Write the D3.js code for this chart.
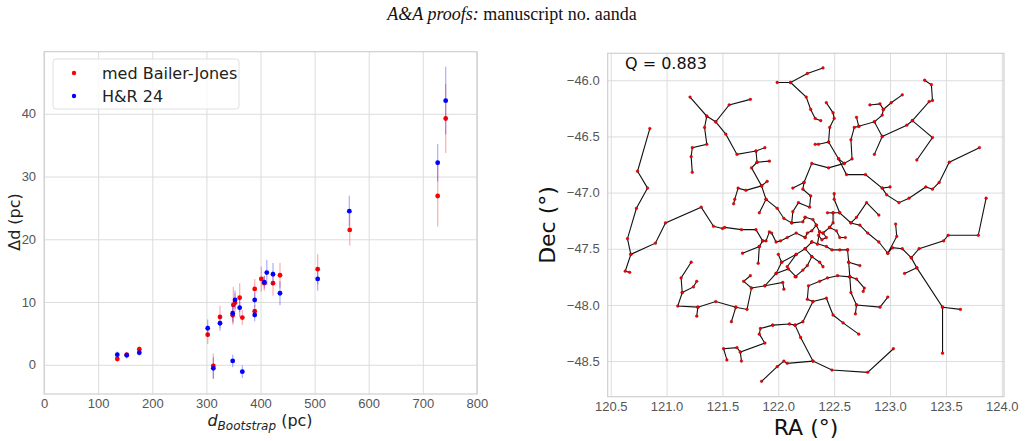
<!DOCTYPE html>
<html>
<head>
<meta charset="utf-8">
<script src="https://cdn.jsdelivr.net/npm/d3@7"></script>
<style>
  body { margin: 0; background: #fff; }
  svg { display: block; font-family: "DejaVu Sans", sans-serif; }
  .grid line { stroke: #dcdcdc; stroke-width: 1; }
  .grid path { display: none; }
  .ticks text { fill: #555; font-size: 13px; }
  .ticks line, .ticks path { display: none; }
</style>
</head>
<body>
<svg width="1025" height="441"></svg>
<script>
// left panel: distance offsets vs bootstrap distance
var bjDist = [135.3, 152.7, 176, 302.4, 312.8, 325.1, 348.6, 349.8, 352.9, 361.5, 366.4,
  389.3, 389.3, 401.5, 407, 423.1, 436, 505.7, 564.9, 727.5, 742.3];
var bjDelta = [0.93, 1.6, 2.47, 4.8, -0.19, 7.62, 7.89, 9.54, 9.9, 10.7, 7.52,
  12.09, 8.53, 13.68, 13.0, 13.0, 14.27, 15.23, 21.5, 26.9, 39.25];
var bjErr = [0.5, 0.4, 0.5, 1.5, 2.0, 1.8, 1.5, 2.9, 1.5, 2.3, 1.2,
  1.6, 1.0, 2.0, 1.2, 2.0, 2.0, 2.4, 2.5, 4.85, 5.5];

var hrDist = [135.3, 152.7, 176, 302.4, 312.8, 325.1, 348.6, 348.6, 352.9, 361.5, 366.4,
  389.3, 389.3, 407, 411.6, 423.1, 436, 505.7, 564.2, 727.5, 742.3];
var hrDelta = [1.61, 1.51, 1.93, 5.82, -0.56, 6.62, 0.61, 8.21, 10.33, 9.1, -1.1,
  10.33, 7.94, 13.16, 14.7, 14.43, 11.4, 13.68, 24.48, 32.2, 42.1];
var hrErr = [0.5, 0.5, 0.5, 1.4, 1.7, 1.2, 1.0, 1.3, 1.5, 1.5, 1.0,
  1.2, 1.0, 1.0, 2.0, 1.8, 1.9, 1.9, 2.44, 3.0, 5.4];

var xTicksLeft = [0, 100, 200, 300, 400, 500, 600, 700, 800];
var yTicksLeft = [0, 10, 20, 30, 40];

// right panel: minimum spanning tree, each branch is a list of [RA, Dec]
var branches = [
  [[120.85,-46.43],[120.74,-46.81],[120.83,-46.96],[120.73,-47.14],[120.65,-47.41],[120.68,-47.55],[120.63,-47.70],[120.67,-47.71]],
  [[120.68,-47.55],[120.90,-47.45],[120.99,-47.27],[121.31,-47.13],[121.42,-47.30],[121.50,-47.32],[121.52,-47.31],[121.67,-47.33],[121.80,-47.33],[121.86,-47.43],[121.89,-47.43],[121.92,-47.35],[121.94,-47.36],[121.98,-47.44],[122.02,-47.43],[122.08,-47.40],[122.16,-47.36],[122.24,-47.40]],
  [[121.86,-47.43],[121.83,-47.48],[121.68,-47.54]],
  [[121.83,-47.48],[121.82,-47.63]],
  [[121.21,-46.15],[121.36,-46.32],[121.44,-46.37],[121.56,-46.22],[121.75,-46.17]],
  [[121.36,-46.32],[121.34,-46.42],[121.36,-46.57],[121.23,-46.60],[121.22,-46.68],[121.23,-46.82]],
  [[121.44,-46.37],[121.53,-46.48],[121.63,-46.66],[121.80,-46.63],[121.88,-46.60]],
  [[121.80,-46.63],[121.81,-46.73],[121.92,-46.72]],
  [[121.81,-46.73],[121.76,-46.78],[121.85,-46.94],[121.90,-46.90]],
  [[121.85,-46.94],[121.71,-46.98],[121.64,-46.96],[121.61,-47.06],[121.60,-47.10]],
  [[121.85,-46.94],[121.89,-47.06],[121.83,-47.18]],
  [[121.89,-47.06],[121.99,-47.14],[122.05,-47.23],[122.12,-47.27],[122.22,-47.26],[122.24,-47.22]],
  [[121.22,-47.62],[121.13,-47.76],[121.14,-47.89],[121.10,-48.01],[121.28,-48.02],[121.44,-47.97],[121.62,-48.02],[121.72,-48.04],[121.76,-47.85],[121.69,-47.79],[121.75,-47.74]],
  [[121.14,-47.89],[121.24,-47.84],[121.27,-47.79]],
  [[121.28,-48.02],[121.27,-48.10]],
  [[121.62,-48.02],[121.58,-48.15]],
  [[121.76,-47.85],[121.88,-47.83],[121.98,-47.72],[122.03,-47.62],[122.00,-47.55]],
  [[122.03,-47.62],[122.16,-47.55],[122.24,-47.50],[122.30,-47.44]],
  [[121.98,-47.72],[122.09,-47.68],[122.16,-47.75]],
  [[121.88,-47.83],[122.04,-47.80],[122.05,-47.86]],
  [[121.95,-48.18],[121.84,-48.21],[121.83,-48.26],[121.88,-48.34],[121.66,-48.42],[121.63,-48.38],[121.51,-48.39],[121.54,-48.49]],
  [[121.66,-48.42],[121.67,-48.50]],
  [[123.03,-48.39],[122.80,-48.60],[122.48,-48.58],[122.31,-48.50],[122.08,-48.52],[122.05,-48.50],[121.99,-48.55],[121.85,-48.68]],
  [[122.31,-48.50],[122.20,-48.29],[122.15,-48.18],[122.22,-48.15],[122.31,-47.97],[122.26,-47.95],[122.27,-47.83],[122.37,-47.79],[122.44,-47.76],[122.53,-47.74],[122.64,-47.75],[122.70,-47.77],[122.77,-47.85],[122.76,-47.88]],
  [[122.31,-47.97],[122.43,-47.94],[122.49,-48.09],[122.58,-48.16],[122.72,-48.26]],
  [[122.15,-48.18],[122.10,-48.17],[121.95,-48.18]],
  [[123.86,-47.05],[123.79,-47.38],[123.52,-47.38],[123.48,-47.43],[123.26,-47.50],[123.19,-47.58],[123.24,-47.67],[123.47,-48.02],[123.47,-48.43]],
  [[123.47,-48.02],[123.63,-48.04]],
  [[123.24,-47.67],[123.13,-47.72]],
  [[123.19,-47.58],[123.11,-47.50],[123.02,-47.49],[122.98,-47.54],[123.06,-47.39],[123.05,-47.28]],
  [[122.98,-47.54],[122.90,-47.44],[122.80,-47.36],[122.73,-47.29],[122.65,-47.27],[122.55,-47.18],[122.50,-47.06],[122.50,-47.01]],
  [[122.62,-47.51],[122.63,-47.62],[122.64,-47.75]],
  [[122.64,-47.75],[122.65,-47.89],[122.70,-48.00],[122.91,-48.02],[122.98,-47.93]],
  [[122.70,-48.00],[122.69,-48.08]],
  [[122.63,-47.62],[122.73,-47.65]],
  [[122.40,-45.89],[122.26,-45.94],[122.11,-46.02],[121.99,-46.02]],
  [[122.11,-46.02],[122.25,-46.15],[122.29,-46.26],[122.33,-46.34],[122.38,-46.36]],
  [[122.43,-46.20],[122.49,-46.29],[122.50,-46.34],[122.46,-46.42],[122.45,-46.55],[122.36,-46.57],[122.33,-46.57]],
  [[122.45,-46.55],[122.54,-46.70],[122.61,-46.84],[122.78,-46.84],[122.93,-46.96],[123.00,-46.95]],
  [[122.93,-46.96],[122.97,-47.02],[123.08,-47.09],[123.17,-47.05],[123.32,-46.95],[123.38,-46.97],[123.44,-46.91],[123.53,-46.73],[123.80,-46.60]],
  [[122.54,-46.70],[122.59,-46.74],[122.66,-46.70],[122.65,-46.53],[122.68,-46.42],[122.72,-46.41],[122.70,-46.33]],
  [[122.72,-46.41],[122.86,-46.37],[122.93,-46.50],[122.86,-46.66]],
  [[122.86,-46.37],[122.93,-46.31],[122.94,-46.26],[122.91,-46.21],[122.82,-46.22]],
  [[122.94,-46.26],[123.01,-46.20],[123.11,-46.13]],
  [[122.93,-46.50],[123.15,-46.40],[123.20,-46.36],[123.38,-46.51],[123.24,-46.71]],
  [[123.20,-46.36],[123.35,-46.19],[123.38,-46.18],[123.37,-46.04],[123.31,-46.00]],
  [[122.59,-46.74],[122.45,-46.78],[122.30,-46.74],[122.23,-46.91],[122.22,-46.97],[122.29,-47.03],[122.28,-47.13],[122.18,-47.09],[122.13,-47.17],[122.12,-47.27]],
  [[122.23,-46.91],[122.13,-46.96]],
  [[122.65,-47.27],[122.70,-47.22],[122.79,-47.09],[122.90,-47.20]],
  [[122.55,-47.18],[122.49,-47.18],[122.49,-47.27],[122.46,-47.31],[122.40,-47.36],[122.37,-47.35],[122.34,-47.29],[122.31,-47.24],[122.24,-47.22]],
  [[122.49,-47.18],[122.44,-47.18]],
  [[122.30,-47.44],[122.43,-47.48],[122.48,-47.51],[122.55,-47.51],[122.62,-47.51]],
  [[122.24,-47.50],[122.30,-47.57],[122.37,-47.62],[122.40,-47.66]],
  [[122.30,-47.57],[122.26,-47.65],[122.22,-47.69],[122.15,-47.75]],
  [[122.16,-47.55],[122.08,-47.66]],
  [[122.40,-47.36],[122.43,-47.40],[122.39,-47.42],[122.36,-47.38]],
  [[122.34,-47.29],[122.30,-47.34],[122.26,-47.36],[122.24,-47.40]],
  [[122.46,-47.31],[122.52,-47.34],[122.55,-47.40],[122.60,-47.40]],
  [[122.37,-47.35],[122.35,-47.46]]
];
var raTicks = [120.5, 121.0, 121.5, 122.0, 122.5, 123.0, 123.5, 124.0];
var decTicks = [-46.0, -46.5, -47.0, -47.5, -48.0, -48.5];
var qValue = 0.883;

var svg = d3.select('svg');

// header
var head = svg.append('text')
  .attr('x', 512).attr('y', 20)
  .attr('text-anchor', 'middle')
  .style('font-family', '"Liberation Serif", "DejaVu Serif", serif')
  .style('font-size', '18px')
  .style('fill', '#111');
head.append('tspan').style('font-style', 'italic').text('A&A proofs:');
head.append('tspan').text(' manuscript no. aanda');

// ---- left panel ----
var xL = d3.scaleLinear().domain([0, 800]).range([44.1, 476.9]);
var yL = d3.scaleLinear().domain([-4.66, 49.9]).range([394, 51.7]);

var left = svg.append('g');
left.append('g').attr('class', 'grid')
  .attr('transform', 'translate(0,394)')
  .call(d3.axisBottom(xL).tickValues(xTicksLeft).tickSize(-342.3).tickFormat(''));
left.append('g').attr('class', 'grid')
  .attr('transform', 'translate(44.1,0)')
  .call(d3.axisLeft(yL).tickValues(yTicksLeft).tickSize(-432.8).tickFormat(''));
left.append('rect')
  .attr('x', 44.1).attr('y', 51.7).attr('width', 432.8).attr('height', 342.3)
  .style('fill', 'none').style('stroke', '#cfcfcf').style('stroke-width', 1.2);
left.append('g').attr('class', 'ticks')
  .attr('transform', 'translate(0,394)')
  .call(d3.axisBottom(xL).tickValues(xTicksLeft).tickSize(0).tickPadding(5));
left.append('g').attr('class', 'ticks')
  .attr('transform', 'translate(44.1,0)')
  .call(d3.axisLeft(yL).tickValues(yTicksLeft).tickSize(0).tickPadding(8));

function drawSeries(dist, delta, err, color) {
  var idx = d3.range(dist.length);
  left.append('g').selectAll('line').data(idx).join('line')
    .attr('x1', function (i) { return xL(dist[i]); })
    .attr('x2', function (i) { return xL(dist[i]); })
    .attr('y1', function (i) { return yL(delta[i] - err[i]); })
    .attr('y2', function (i) { return yL(delta[i] + err[i]); })
    .style('stroke', color).style('stroke-opacity', 0.3).style('stroke-width', 1.3);
  left.append('g').selectAll('circle').data(idx).join('circle')
    .attr('cx', function (i) { return xL(dist[i]); })
    .attr('cy', function (i) { return yL(delta[i]); })
    .attr('r', 2.4)
    .style('fill', color);
}
drawSeries(bjDist, bjDelta, bjErr, '#ff0000');
drawSeries(hrDist, hrDelta, hrErr, '#0000ff');

// legend
var leg = left.append('g');
leg.append('rect')
  .attr('x', 53).attr('y', 59).attr('width', 186).attr('height', 50).attr('rx', 3)
  .style('fill', '#fff').style('fill-opacity', 0.8).style('stroke', '#e0e0e0');
[['med Bailer-Jones', '#ff0000'], ['H&R 24', '#0000ff']].forEach(function (d, i) {
  leg.append('circle').attr('cx', 74).attr('cy', 73 + i * 23).attr('r', 2.2).style('fill', d[1]);
  leg.append('text').attr('x', 102).attr('y', 79 + i * 23)
    .style('font-size', '16px').style('fill', '#222').text(d[0]);
});

// axis labels
left.append('text')
  .attr('transform', 'translate(20,222) rotate(-90)')
  .attr('text-anchor', 'middle')
  .style('font-size', '16px').style('fill', '#222')
  .text('Δd (pc)');
var xlab = left.append('text')
  .attr('x', 260).attr('y', 426)
  .attr('text-anchor', 'middle')
  .style('font-size', '16px').style('fill', '#222');
xlab.append('tspan').style('font-style', 'italic').text('d');
xlab.append('tspan').attr('dy', 4).style('font-style', 'italic').style('font-size', '12px').text('Bootstrap');
xlab.append('tspan').attr('dy', -4).text(' (pc)');

// ---- right panel ----
var xR = d3.scaleLinear().domain([120.473, 124.02]).range([607.7, 1004]);
var yR = d3.scaleLinear().domain([-45.76, -48.817]).range([53.3, 396.7]);

var right = svg.append('g');
right.append('g').attr('class', 'grid')
  .attr('transform', 'translate(0,396.7)')
  .call(d3.axisBottom(xR).tickValues(raTicks).tickSize(-343.4).tickFormat(''));
right.append('g').attr('class', 'grid')
  .attr('transform', 'translate(607.7,0)')
  .call(d3.axisLeft(yR).tickValues(decTicks).tickSize(-396.3).tickFormat(''));
right.append('rect')
  .attr('x', 607.7).attr('y', 53.3).attr('width', 396.3).attr('height', 343.4)
  .style('fill', 'none').style('stroke', '#cfcfcf').style('stroke-width', 1.2);
right.append('g').attr('class', 'ticks')
  .attr('transform', 'translate(0,396.7)')
  .call(d3.axisBottom(xR).tickValues(raTicks).tickSize(0).tickPadding(5).tickFormat(d3.format('.1f')));
right.append('g').attr('class', 'ticks')
  .attr('transform', 'translate(607.7,0)')
  .call(d3.axisLeft(yR).tickValues(decTicks).tickSize(0).tickPadding(8).tickFormat(d3.format('.1f')));

var line = d3.line()
  .x(function (p) { return xR(p[0]); })
  .y(function (p) { return yR(p[1]); });
right.append('g').selectAll('path').data(branches).join('path')
  .attr('d', line)
  .style('fill', 'none').style('stroke', '#111').style('stroke-width', 1.1);

var nodes = [];
branches.forEach(function (b) { b.forEach(function (p) { nodes.push(p); }); });
right.append('g').selectAll('circle').data(nodes).join('circle')
  .attr('cx', function (p) { return xR(p[0]); })
  .attr('cy', function (p) { return yR(p[1]); })
  .attr('r', 1.4)
  .style('fill', '#ff0000').style('stroke', '#600').style('stroke-width', 0.3);

right.append('text')
  .attr('x', 625).attr('y', 69)
  .style('font-size', '16px').style('fill', '#111')
  .text('Q = ' + qValue);

right.append('text')
  .attr('x', 806).attr('y', 435)
  .attr('text-anchor', 'middle')
  .style('font-size', '22px').style('fill', '#111')
  .text('RA (°)');
right.append('text')
  .attr('transform', 'translate(555,225) rotate(-90)')
  .attr('text-anchor', 'middle')
  .style('font-size', '22px').style('fill', '#111')
  .text('Dec (°)');
</script>
</body>
</html>
